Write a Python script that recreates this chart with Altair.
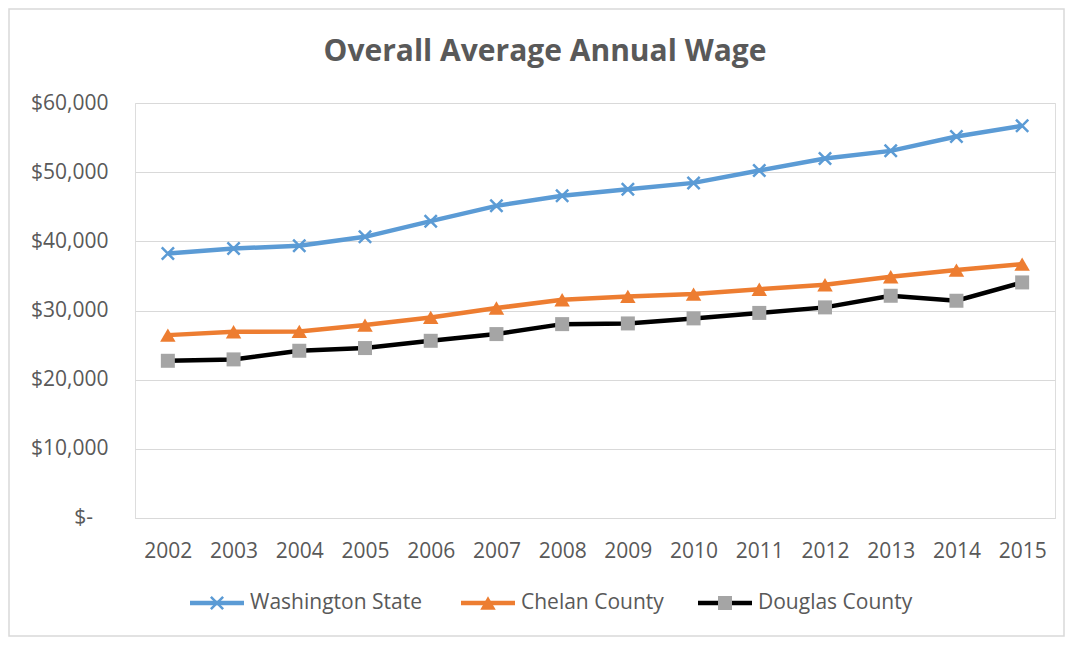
import altair as alt
import pandas as pd

# ---------------- data ----------------
years = [str(y) for y in range(2002, 2016)]
series_names = ["Washington State", "Chelan County", "Douglas County"]
washington = [38240, 38970, 39350, 40650, 42920, 45130, 46580, 47540, 48450, 50250, 51980, 53080, 55160, 56700]
chelan = [26440, 26920, 26980, 27890, 29000, 30350, 31550, 32040, 32370, 33070, 33720, 34880, 35840, 36710]
douglas = [22730, 22930, 24180, 24570, 25620, 26590, 28030, 28130, 28860, 29650, 30450, 32130, 31410, 34060]
y_ticks = [0, 10000, 20000, 30000, 40000, 50000, 60000]
title_text = "Overall Average Annual Wage"
zero_label = "$-"

# ---------------- styles ----------------
line_colors = ["#5B9BD5", "#ED7D31", "#000000"]
marker_colors = ["#5B9BD5", "#ED7D31", "#A5A5A5"]
FONT = "Open Sans"
TEXT = "#595959"
GRID = "#D9D9D9"
X_PATH = "M-1,-1L1,1M-1,1L1,-1"
marker_styles = [
    dict(shape=X_PATH, filled=False, size=150, strokeWidth=2.5),
    dict(shape="triangle-up", filled=True, size=240, strokeWidth=0),
    dict(shape="square", filled=True, size=196, strokeWidth=0),
]
PLOT_W, PLOT_H = 920, 415
legend_centers = [82, 353, 590]   # legend layout (plot-relative pixels)
legend_y = 500

rows = []
for name, vals in zip(series_names, [washington, chelan, douglas]):
    for yr, v in zip(years, vals):
        rows.append({"year": yr, "series": name, "value": v})
df = pd.DataFrame(rows)

x_enc = alt.X(
    "year:O", sort=years,
    scale=alt.Scale(type="point", padding=0.5),
    axis=alt.Axis(title=None, labelAngle=0, ticks=False, tickSize=0, domain=True,
                  domainColor=GRID, domainWidth=1, grid=False,
                  labelFont=FONT, labelFontSize=21, labelColor=TEXT,
                  labelPadding=39, labelBaseline="alphabetic"),
)
y_enc = alt.Y(
    "value:Q",
    scale=alt.Scale(domain=[0, 60000], nice=False),
    axis=alt.Axis(title=None, values=y_ticks, ticks=False, tickSize=0, domain=False,
                  grid=True, gridColor=GRID, gridWidth=1,
                  labelFont=FONT, labelFontSize=21, labelColor=TEXT,
                  labelAlign="right", labelPadding=27,
                  labelExpr="datum.value == 0 ? '' : '$' + format(datum.value, ',')"),
)

base = alt.Chart(df)
one = alt.Data(values=[{"k": 0}])

lines = base.mark_line(strokeWidth=4.5).encode(
    x=x_enc, y=y_enc,
    color=alt.Color("series:N", scale=alt.Scale(domain=series_names, range=line_colors), legend=None),
)

layers = []
# outer frame
layers.append(
    alt.Chart(one).mark_rect(fillOpacity=0, stroke=GRID, strokeWidth=1.5).encode(
        x=alt.value(-126), x2=alt.value(929), y=alt.value(-94), y2=alt.value(533))
)
layers.append(lines)
for name, col, st in zip(series_names, marker_colors, marker_styles):
    kw = dict(shape=st["shape"], filled=st["filled"], size=st["size"], opacity=1)
    if st["filled"]:
        kw.update(fill=col, strokeWidth=0)
    else:
        kw.update(stroke=col, strokeWidth=st["strokeWidth"])
    layers.append(
        base.transform_filter(alt.datum.series == name).mark_point(**kw).encode(x=x_enc, y=y_enc)
    )

# zero tick label in accounting style ("$-" set in from the right edge)
layers.append(
    alt.Chart(alt.Data(values=[{"value": y_ticks[0]}])).mark_text(
        text=zero_label, align="right", baseline="middle", font=FONT, fontSize=21, color=TEXT
    ).encode(x=alt.value(-42), y=y_enc)
)

# ---------------- legend ----------------
for name, lc, mc, st, cx in zip(series_names, line_colors, marker_colors, marker_styles, legend_centers):
    layers.append(
        alt.Chart(one).mark_rule(strokeWidth=4.5, color=lc).encode(
            x=alt.value(cx - 27), x2=alt.value(cx + 27), y=alt.value(legend_y))
    )
    kw = dict(shape=st["shape"], filled=st["filled"], size=st["size"], opacity=1)
    if st["filled"]:
        kw.update(fill=mc, strokeWidth=0)
    else:
        kw.update(stroke=mc, strokeWidth=st["strokeWidth"])
    layers.append(alt.Chart(one).mark_point(**kw).encode(x=alt.value(cx), y=alt.value(legend_y)))
    layers.append(
        alt.Chart(one).mark_text(text=name, align="left", baseline="middle", font=FONT,
                                 fontSize=21, color=TEXT).encode(
            x=alt.value(cx + 33), y=alt.value(legend_y))
    )

# ---------------- title ----------------
layers.append(
    alt.Chart(one).mark_text(text=title_text, align="center", baseline="alphabetic", font=FONT,
                             fontSize=30, fontWeight="bold", color=TEXT).encode(
        x=alt.value(410), y=alt.value(-42))
)

chart = alt.layer(*layers).properties(
    width=PLOT_W, height=PLOT_H,
    padding={"left": 127, "top": 95, "right": 10, "bottom": 119},
    autosize=alt.AutoSizeParams(type="none"),
).configure_view(stroke=None).configure(background="white")

chart.save("out.html", embed_options={"renderer": "svg", "actions": False})
